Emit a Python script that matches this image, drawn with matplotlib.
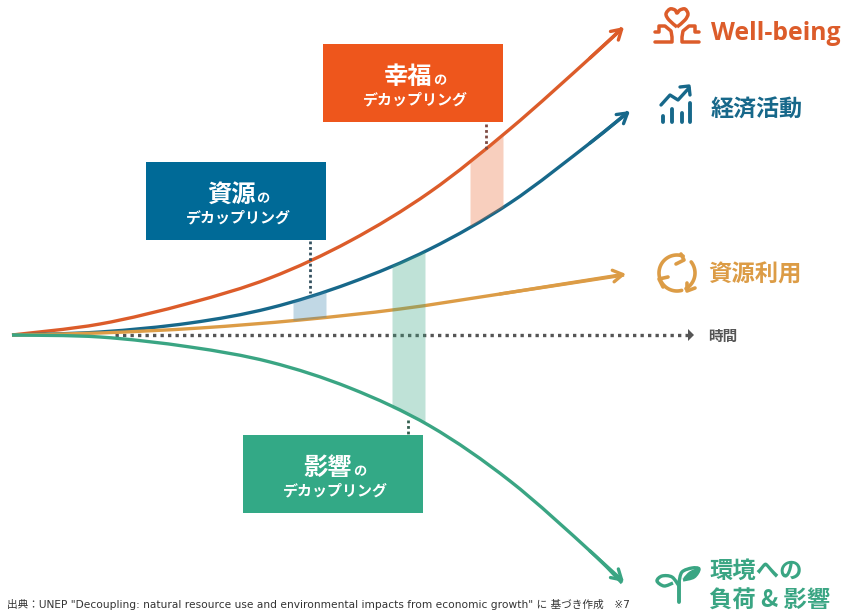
import numpy as np
import matplotlib
matplotlib.use("Agg")
import matplotlib.pyplot as plt
from matplotlib.patches import Rectangle, PathPatch, Polygon
from matplotlib.path import Path

plt.rcParams['font.family'] = ['Noto Sans CJK JP', 'DejaVu Sans']

ORANGE = "#dc5c2a"
BLUE = "#17688a"
TAN = "#dc9c46"
GREEN = "#3aa583"

wellbeing_x = [12, 100, 190, 270, 350, 430, 510, 590, 622]
wellbeing_y = [335, 324, 303, 278, 241, 192, 129, 58, 28]
economy_x = [12, 100, 190, 270, 350, 430, 510, 590, 628]
economy_y = [335, 332, 323, 308, 283, 249, 203, 143, 112]
resource_x = [12, 100, 200, 300, 400, 500, 624]
resource_y = [335, 333, 328, 320, 309, 294, 275]
impact_x = [12, 100, 190, 270, 350, 430, 510, 590, 622]
impact_y = [335, 337, 347, 362, 388, 426, 481, 551, 583]

box_titles = ["幸福", "資源", "影響"]
box_sub = "デカップリング"
footer = '出典：UNEP "Decoupling: natural resource use and environmental impacts from economic growth" に 基づき作成　※7'


def smooth_path(xs, ys):
    # catmull-rom through the points, as cubic bezier segments
    p = np.column_stack([xs, ys]).astype(float)
    verts = [p[0]]
    codes = [Path.MOVETO]
    for i in range(len(p) - 1):
        a = p[max(i - 1, 0)]
        b = p[i]
        c = p[i + 1]
        d = p[min(i + 2, len(p) - 1)]
        verts += [b + (c - a) / 6, c - (d - b) / 6, c]
        codes += [Path.CURVE4] * 3
    return Path(verts, codes)


def draw_curve(ax, xs, ys, color):
    ax.add_patch(PathPatch(smooth_path(xs, ys), fc="none", ec=color, lw=2.4, capstyle="butt", zorder=3))
    ax.annotate("", xy=(xs[-1] + 2, ys[-1] - 1), xytext=(xs[-2], ys[-2]),
                arrowprops=dict(arrowstyle="->,head_length=0.7,head_width=0.42", color=color, lw=2.4,
                                shrinkA=0, shrinkB=0), zorder=3)


def band(ax, x0, x1, upper, lower, color):
    xs = np.linspace(x0, x1, 30)
    ax.fill_between(xs, np.interp(xs, *upper), np.interp(xs, *lower), color=color, alpha=0.32, lw=0, zorder=4)


def box(ax, x, y, title, color):
    ax.add_patch(Rectangle((x, y), 180, 78, fc=color, ec="none", zorder=5))
    ax.text(x + 85, y + 33, title, color="white", fontsize=17.5, fontweight="bold", ha="center", va="center", zorder=6)
    ax.text(x + 117, y + 36, "の", color="white", fontsize=9.5, fontweight="bold", ha="center", va="center", zorder=6)
    ax.text(x + 92, y + 55, box_sub, color="white", fontsize=10.8, fontweight="bold", ha="center", va="center", zorder=6)


def stroke(ax, xs, ys, color, lw=2.2):
    ax.plot(xs, ys, color=color, lw=lw, solid_capstyle="round", solid_joinstyle="round", zorder=6)


def curve(ax, pts, color, lw=2.2, fc="none"):
    ax.add_patch(PathPatch(smooth_path(*zip(*pts)), fc=fc, ec=color, lw=lw, zorder=6))


def heart_icon(ax):
    curve(ax, [(677, 27), (669, 20), (666, 14), (670, 9), (675, 10), (677, 13), (680, 10), (685, 9), (688, 14), (685, 20), (677, 27)], ORANGE, lw=2.5)
    for s in (-1, 1):
        xs = np.array([22, 18, 18, 12, 6, 5, 5, 22])
        ys = [32, 32, 26, 26, 31, 37, 42, 42]
        stroke(ax, 677 + s * xs, ys, ORANGE, lw=2.5)


def chart_icon(ax):
    for x, top in zip([663, 672, 682, 690], [116, 109, 113, 103]):
        stroke(ax, [x, x], [122, top], BLUE, lw=2.8)
    stroke(ax, [661, 670, 678, 689], [105, 95, 100, 88], BLUE, lw=2.4)
    stroke(ax, [680, 689, 690], [87, 86, 95], BLUE, lw=2.4)


def cycle_icon(ax):
    cx, cy, r = 677, 273, 18
    for a0, a1 in [(166, 290), (322, 420), (75, 162)]:
        t = np.radians(np.linspace(a0, a1, 30))
        stroke(ax, cx + r * np.cos(t), cy + r * np.sin(t), TAN, lw=2.6)
    stroke(ax, [681, 684, 676], [254, 260, 264], TAN, lw=2.6)
    stroke(ax, [687, 687, 695], [283, 291, 288], TAN, lw=2.6)
    stroke(ax, [668, 659, 663], [277, 279, 287], TAN, lw=2.6)


def sprout_icon(ax):
    stroke(ax, [679, 679], [602, 582], GREEN, lw=2.8)
    curve(ax, [(679, 586), (672, 577), (662, 576), (657, 581), (664, 586), (673, 583)], GREEN, lw=2.4)
    curve(ax, [(679, 582), (682, 572), (692, 568), (699, 569), (694, 577), (683, 580)], GREEN, lw=2.4)
    curve(ax, [(684, 578), (690, 572), (698, 569), (693, 576), (684, 578)], GREEN, lw=1, fc=GREEN)


def main():
    fig = plt.figure(figsize=(8.43, 6.12), dpi=100)
    ax = fig.add_axes([0, 0, 1, 1])
    ax.set_xlim(0, 843)
    ax.set_ylim(612, 0)
    ax.axis("off")

    # time axis
    ax.plot([115, 688], [335, 335], color="#555555", lw=2.4, ls=(0, (1.0, 1.25)), zorder=2)
    ax.add_patch(Polygon([(688, 329), (694, 335), (688, 341)], fc="#555555", ec="none", zorder=2))
    ax.text(708, 335.5, "時間", color="#555555", fontsize=10.5, fontweight="bold", va="center")

    draw_curve(ax, wellbeing_x, wellbeing_y, ORANGE)
    draw_curve(ax, economy_x, economy_y, BLUE)
    draw_curve(ax, resource_x, resource_y, TAN)
    draw_curve(ax, impact_x, impact_y, GREEN)

    wellbeing = (wellbeing_x, wellbeing_y)
    economy = (economy_x, economy_y)
    resource = (resource_x, resource_y)
    impact = (impact_x, impact_y)
    band(ax, 293, 326, economy, resource, "#3f86b0")
    band(ax, 392, 425, economy, impact, "#3aa583")
    band(ax, 470, 503, wellbeing, economy, "#ea6a35")

    box(ax, 323, 44, box_titles[0], "#ee561c")
    box(ax, 146, 162, box_titles[1], "#006a97")
    box(ax, 243, 435, box_titles[2], "#33a986")

    # dotted leaders from boxes to the bands
    ax.plot([486, 486], [124, 149], color="#7d4a42", lw=2, ls=(0, (1, 1)), zorder=5)
    ax.plot([310, 310], [241, 293], color="#33505f", lw=2, ls=(0, (1, 1)), zorder=5)
    ax.plot([408, 408], [420, 435], color="#33604f", lw=2, ls=(0, (1, 1)), zorder=5)

    ax.text(711, 33, "Well-being", color=ORANGE, fontsize=17.8, fontweight="bold", family="Open Sans", va="center")
    ax.text(711, 110, "経済活動", color=BLUE, fontsize=16.6, fontweight="bold", va="center")
    ax.text(708, 275, "資源利用", color=TAN, fontsize=16.8, fontweight="bold", va="center")
    ax.text(709, 571, "環境への", color=GREEN, fontsize=16.8, fontweight="bold", va="center")
    ax.text(709, 601, "負荷 & 影響", color=GREEN, fontsize=16.8, fontweight="bold", va="center")

    heart_icon(ax)
    chart_icon(ax)
    cycle_icon(ax)
    sprout_icon(ax)

    ax.text(7, 604, footer, color="#333333", fontsize=7.7, va="center",
            family=["DejaVu Sans", "Noto Sans CJK JP"])

    fig.savefig("out.png", dpi=100)


if __name__ == "__main__":
    main()
